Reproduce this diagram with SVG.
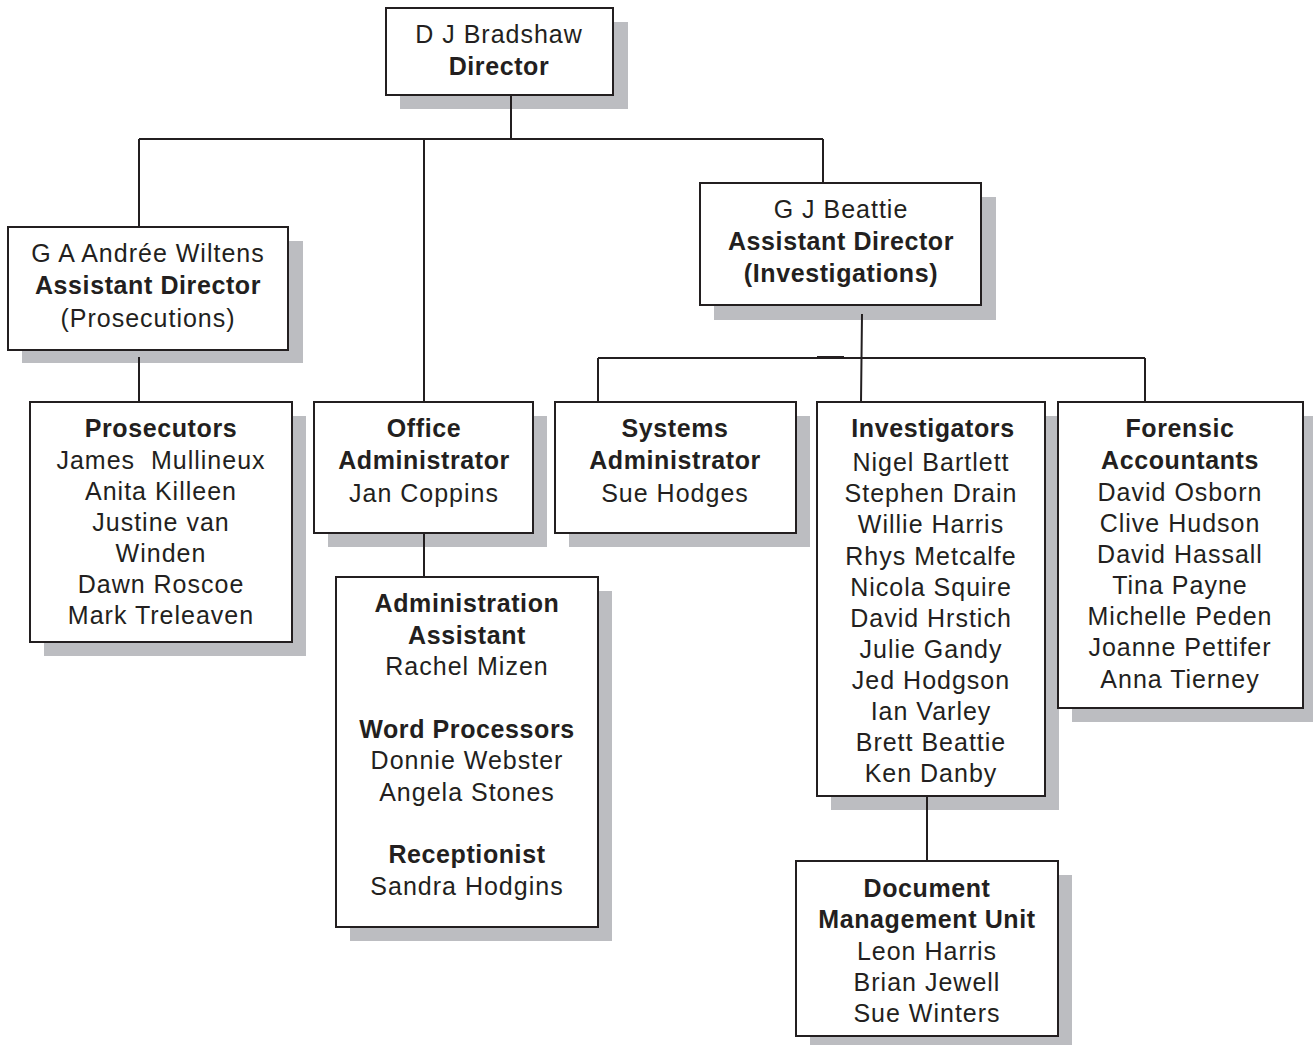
<svg xmlns="http://www.w3.org/2000/svg" width="1313" height="1045" viewBox="0 0 1313 1045">
<style>
.shadow{fill:#bcbdc1}
.box{fill:#fff;stroke:#231f20;stroke-width:2}
.line{stroke:#231f20;stroke-width:2;fill:none}
text{font-family:"Liberation Sans",Arial,sans-serif;font-size:25px;letter-spacing:1px;fill:#231f20;text-anchor:middle}
.b{font-weight:bold;letter-spacing:0.6px}
</style>
<g id="director">
<rect class="shadow" x="400" y="22" width="228" height="87"/>
<rect class="box" x="386" y="8" width="227" height="87"/>
<text x="499" y="43">D J Bradshaw</text>
<text x="499" y="75" class="b">Director</text>
</g>
<g id="ad-prosecutions">
<rect class="shadow" x="22" y="241" width="281" height="122"/>
<rect class="box" x="8" y="227" width="280" height="123"/>
<text x="148" y="262">G A Andrée Wiltens</text>
<text x="148" y="294" class="b">Assistant Director</text>
<text x="148" y="327">(Prosecutions)</text>
</g>
<g id="ad-investigations">
<rect class="shadow" x="714" y="197" width="282" height="123"/>
<rect class="box" x="700" y="183" width="281" height="122"/>
<text x="841" y="218">G J Beattie</text>
<text x="841" y="250" class="b">Assistant Director</text>
<text x="841" y="282" class="b">(Investigations)</text>
</g>
<g id="prosecutors">
<rect class="shadow" x="44" y="416" width="262" height="240"/>
<rect class="box" x="30" y="402" width="262" height="240"/>
<text x="161" y="437" class="b">Prosecutors</text>
<text x="161" y="469" xml:space="preserve">James  Mullineux</text>
<text x="161" y="500">Anita Killeen</text>
<text x="161" y="531">Justine van</text>
<text x="161" y="562">Winden</text>
<text x="161" y="593">Dawn Roscoe</text>
<text x="161" y="624">Mark Treleaven</text>
</g>
<g id="office-administrator">
<rect class="shadow" x="328" y="416" width="219" height="131"/>
<rect class="box" x="314" y="402" width="219" height="131"/>
<text x="424" y="437" class="b">Office</text>
<text x="424" y="469" class="b">Administrator</text>
<text x="424" y="502">Jan Coppins</text>
</g>
<g id="systems-administrator">
<rect class="shadow" x="569" y="416" width="241" height="131"/>
<rect class="box" x="555" y="402" width="241" height="131"/>
<text x="675" y="437" class="b">Systems</text>
<text x="675" y="469" class="b">Administrator</text>
<text x="675" y="502">Sue Hodges</text>
</g>
<g id="investigators">
<rect class="shadow" x="831" y="416" width="228" height="394"/>
<rect class="box" x="817" y="402" width="228" height="394"/>
<text x="933" y="437" class="b">Investigators</text>
<text x="931" y="471">Nigel Bartlett</text>
<text x="931" y="502">Stephen Drain</text>
<text x="931" y="533">Willie Harris</text>
<text x="931" y="565">Rhys Metcalfe</text>
<text x="931" y="596">Nicola Squire</text>
<text x="931" y="627">David Hrstich</text>
<text x="931" y="658">Julie Gandy</text>
<text x="931" y="689">Jed Hodgson</text>
<text x="931" y="720">Ian Varley</text>
<text x="931" y="751">Brett Beattie</text>
<text x="931" y="782">Ken Danby</text>
</g>
<g id="forensic-accountants">
<rect class="shadow" x="1072" y="416" width="241" height="306"/>
<rect class="box" x="1058" y="402" width="245" height="306"/>
<text x="1180" y="437" class="b">Forensic</text>
<text x="1180" y="469" class="b">Accountants</text>
<text x="1180" y="501">David Osborn</text>
<text x="1180" y="532">Clive Hudson</text>
<text x="1180" y="563">David Hassall</text>
<text x="1180" y="594">Tina Payne</text>
<text x="1180" y="625">Michelle Peden</text>
<text x="1180" y="656">Joanne Pettifer</text>
<text x="1180" y="688">Anna Tierney</text>
</g>
<g id="administration-assistant">
<rect class="shadow" x="350" y="591" width="262" height="350"/>
<rect class="box" x="336" y="577" width="262" height="350"/>
<text x="467" y="612" class="b">Administration</text>
<text x="467" y="644" class="b">Assistant</text>
<text x="467" y="675">Rachel Mizen</text>
<text x="467" y="738" class="b">Word Processors</text>
<text x="467" y="769">Donnie Webster</text>
<text x="467" y="801">Angela Stones</text>
<text x="467" y="863" class="b">Receptionist</text>
<text x="467" y="895">Sandra Hodgins</text>
</g>
<g id="document-management-unit">
<rect class="shadow" x="810" y="875" width="262" height="170"/>
<rect class="box" x="796" y="861" width="262" height="175"/>
<text x="927" y="897" class="b">Document</text>
<text x="927" y="928" class="b">Management Unit</text>
<text x="927" y="960">Leon Harris</text>
<text x="927" y="991">Brian Jewell</text>
<text x="927" y="1022">Sue Winters</text>
</g>
<g id="connectors">
<path class="line" d="M511 95V139M139 139H823M139 139V227M424 139V402M823 139V183"/>
<path class="line" d="M139 357V402"/>
<path class="line" d="M862 314L861 402M598 358H1145M598 358V402M1145 358V402"/>
<path class="line" d="M817 357H844" stroke-width="3"/>
<path class="line" d="M424 533V577"/>
<path class="line" d="M927 796V861"/>
</g>
</svg>
